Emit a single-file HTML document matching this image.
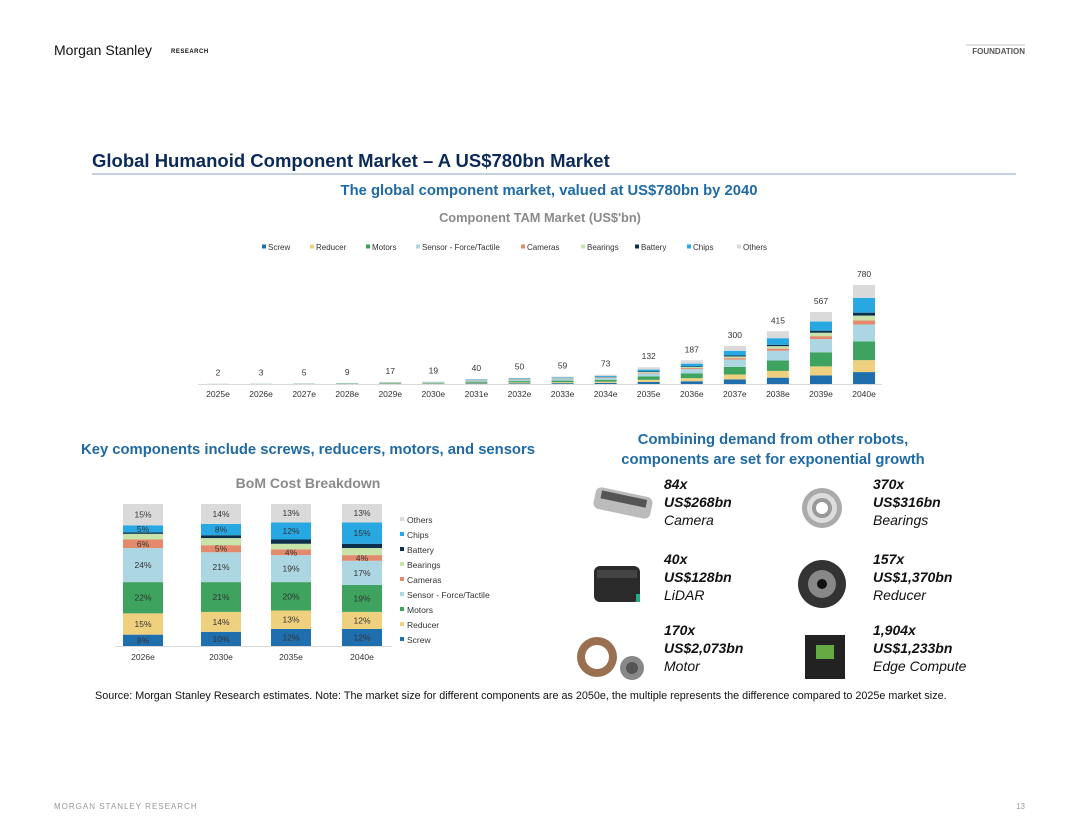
<!DOCTYPE html>
<html><head><meta charset="utf-8"><style>
html,body{margin:0;padding:0;background:#fff}
svg{display:block;font-family:"Liberation Sans",Arial,sans-serif}
</style></head><body>
<svg id="page" width="1080" height="834" viewBox="0 0 1080 834">
<text x="54" y="55" font-size="14" fill="#111">Morgan Stanley</text>
<text x="171" y="53" font-size="6" font-weight="bold" fill="#111" letter-spacing="0.5">RESEARCH</text>
<text x="1025" y="54" font-size="8" font-weight="bold" fill="#555" text-anchor="end">FOUNDATION</text>
<line x1="966" y1="45" x2="1025" y2="45" stroke="#888" stroke-width="0.6"/>
<text x="92" y="167" font-size="18.5" font-weight="bold" fill="#0b2a5a">Global Humanoid Component Market – A US$780bn Market</text>
<line x1="92" y1="174" x2="1016" y2="174" stroke="#8aa0b8" stroke-width="1"/>
<text x="549" y="195" font-size="14.8" font-weight="bold" fill="#1f6aa5" text-anchor="middle">The global component market, valued at US$780bn by 2040</text>
<text x="540" y="222" font-size="12.8" font-weight="bold" fill="#8a8a8a" text-anchor="middle">Component TAM Market (US$'bn)</text>
<g id="topLegend"></g>
<g id="topChart"></g>
<line x1="198" y1="384.5" x2="882" y2="384.5" stroke="#d9d9d9" stroke-width="1"/>
<text x="308" y="454" font-size="14.8" font-weight="bold" fill="#1f6aa5" text-anchor="middle">Key components include screws, reducers, motors, and sensors</text>
<text x="308" y="488" font-size="14" font-weight="bold" fill="#8a8a8a" text-anchor="middle">BoM Cost Breakdown</text>
<g id="bomChart"></g>
<line x1="115" y1="646.5" x2="392" y2="646.5" stroke="#d9d9d9" stroke-width="1"/>
<g id="bomLegend"></g>
<text x="773" y="444" font-size="14.8" font-weight="bold" fill="#1f6aa5" text-anchor="middle">Combining demand from other robots,</text>
<text x="773" y="464" font-size="14.8" font-weight="bold" fill="#1f6aa5" text-anchor="middle">components are set for exponential growth</text>
<g><rect x="594" y="492" width="58" height="22" rx="6" fill="#bbb" transform="rotate(12 623 503)"/><rect x="600" y="495" width="46" height="8" fill="#555" transform="rotate(12 623 503)"/></g>
<g><circle cx="822" cy="508" r="20" fill="#aaa"/><circle cx="822" cy="508" r="15" fill="#ddd"/><circle cx="822" cy="508" r="10" fill="#999"/><circle cx="822" cy="508" r="6" fill="#fff"/></g>
<g><rect x="594" y="566" width="46" height="36" rx="6" fill="#2a2a2a"/><rect x="597" y="570" width="40" height="8" fill="#444"/><rect x="636" y="594" width="4" height="8" fill="#2a8"/></g>
<g><circle cx="822" cy="584" r="24" fill="#333"/><circle cx="822" cy="584" r="14" fill="#888"/><circle cx="822" cy="584" r="5" fill="#111"/></g>
<g><circle cx="597" cy="657" r="20" fill="#9a7050"/><circle cx="597" cy="657" r="12" fill="#fff"/><circle cx="632" cy="668" r="12" fill="#888"/><circle cx="632" cy="668" r="6" fill="#555"/></g>
<g><rect x="805" y="635" width="40" height="44" fill="#222"/><rect x="816" y="645" width="18" height="14" fill="#6a4"/></g>
<g font-size="14" fill="#111">
<text x="664" y="489" font-weight="bold" font-style="italic">84x</text><text x="664" y="507" font-weight="bold" font-style="italic">US$268bn</text><text x="664" y="525" font-style="italic">Camera</text>
<text x="873" y="489" font-weight="bold" font-style="italic">370x</text><text x="873" y="507" font-weight="bold" font-style="italic">US$316bn</text><text x="873" y="525" font-style="italic">Bearings</text>
<text x="664" y="564" font-weight="bold" font-style="italic">40x</text><text x="664" y="582" font-weight="bold" font-style="italic">US$128bn</text><text x="664" y="600" font-style="italic">LiDAR</text>
<text x="873" y="564" font-weight="bold" font-style="italic">157x</text><text x="873" y="582" font-weight="bold" font-style="italic">US$1,370bn</text><text x="873" y="600" font-style="italic">Reducer</text>
<text x="664" y="635" font-weight="bold" font-style="italic">170x</text><text x="664" y="653" font-weight="bold" font-style="italic">US$2,073bn</text><text x="664" y="671" font-style="italic">Motor</text>
<text x="873" y="635" font-weight="bold" font-style="italic">1,904x</text><text x="873" y="653" font-weight="bold" font-style="italic">US$1,233bn</text><text x="873" y="671" font-style="italic">Edge Compute</text>
</g>
<text x="95" y="699" font-size="10.8" fill="#111">Source: Morgan Stanley Research estimates. Note: The market size for different components are as 2050e, the multiple represents the difference compared to 2025e market size.</text>
<text x="54" y="809" font-size="8" fill="#999" letter-spacing="1">MORGAN STANLEY RESEARCH</text>
<text x="1025" y="809" font-size="8" fill="#999" text-anchor="end">13</text>
</svg>
<script>
const years = ["2025e","2026e","2027e","2028e","2029e","2030e","2031e","2032e","2033e","2034e","2035e","2036e","2037e","2038e","2039e","2040e"];
const totals = [2,3,5,9,17,19,40,50,59,73,132,187,300,415,567,780];
const seriesNames = ["Screw","Reducer","Motors","Sensor - Force/Tactile","Cameras","Bearings","Battery","Chips","Others"];
const screw = [0.2,0.3,0.5,0.8,1.6,1.9,4.4,5.5,6.8,8.6,16,22,36,50,68,94];
const reducer = [0.3,0.5,0.8,1.3,2.4,2.7,5.6,7,8,9.8,17,24,39,53,71,94];
const motors = [0.4,0.7,1.1,2,3.6,4,8.4,10.4,12,14.8,26,37,60,82,111,148];
const sensor = [0.5,0.7,1.2,2,3.7,4,8.2,10,11.7,14,25,35,57,77,104,133];
const cameras = [0.1,0.2,0.3,0.5,0.9,1,2,2.4,2.6,3.1,5.5,7.7,12,17,23,31];
const bearings = [0.1,0.1,0.2,0.4,0.8,1,2,2.4,2.8,3.2,5.5,8,13,19,27,39];
const battery = [0,0,0.1,0.2,0.3,0.4,0.8,1,1.3,1.6,3.5,4.8,8,11,16,23];
const chips = [0.1,0.2,0.3,0.5,1.3,1.5,3.6,4.6,5.8,7.5,15,22,37,52,72,117];
const others = [0.3,0.3,0.5,1.3,2.4,2.5,5,6.7,8,10.4,18.5,26.5,38,54,75,101];

const bomYears = ["2026e","2030e","2035e","2040e"];
const bomScrew = [8,10,12,12];
const bomReducer = [15,14,13,12];
const bomMotors = [22,21,20,19];
const bomSensor = [24,21,19,17];
const bomCameras = [6,5,4,4];
const bomBearings = [4,5,4,5];
const bomBattery = [1,2,3,3];
const bomChips = [5,8,12,15];
const bomOthers = [15,14,13,13];
const bomLabels = ["Others","Chips","Battery","Bearings","Cameras","Sensor - Force/Tactile","Motors","Reducer","Screw"];

const colors = ["#1f6fae","#eed07f","#3ea35f","#acd6e2","#e38a6c","#c8e4ab","#0c2f4b","#27a8e2","#dadada"];
const NS = "http://www.w3.org/2000/svg";
function mk(tag, attrs, parent){const e=document.createElementNS(NS,tag);for(const k in attrs)e.setAttribute(k,attrs[k]);parent.appendChild(e);return e;}

const topSeries=[screw,reducer,motors,sensor,cameras,bearings,battery,chips,others];
const base=384, yScale=v=>v*99/780, xC=i=>218+i*43.07, bw=22;
const tc=document.getElementById('topChart');
years.forEach((y,i)=>{
  let acc=0;
  topSeries.forEach((s,k)=>{
    const h=yScale(s[i]);
    const r=mk('rect',{x:xC(i)-bw/2,y:base-yScale(acc)-h,width:bw,height:Math.max(h,0),fill:colors[k]},tc);
    
    
    acc+=s[i];
  });
  const t=mk('text',{x:xC(i),y:base-yScale(totals[i])-8,'font-size':8.5,fill:'#333','text-anchor':'middle'},tc);
  t.textContent=totals[i];
  
  
  const xl=mk('text',{x:xC(i),y:397,'font-size':8.5,fill:'#333','text-anchor':'middle'},tc);
  xl.textContent=y;
  
  
});
const legX=[262,310,366,416,521,581,635,687,737];
const tl=document.getElementById('topLegend');
seriesNames.forEach((n,k)=>{
  const g=mk('g',{},tl);
  
  
  mk('rect',{x:legX[k],y:244.5,width:4,height:4,fill:colors[k]},g);
  const t=mk('text',{x:legX[k]+6,y:250,'font-size':8,fill:'#333'},g);
  t.textContent=n;
});

const bomSeries=[bomScrew,bomReducer,bomMotors,bomSensor,bomCameras,bomBearings,bomBattery,bomChips,bomOthers];
const bc=document.getElementById('bomChart');
const bBase=646, pScale=v=>v*1.42, bx=[143,221,291,362], bW=40;
bomYears.forEach((y,i)=>{
  let acc=0;
  bomSeries.forEach((s,k)=>{
    const h=pScale(s[i]);
    const yy=bBase-pScale(acc)-h;
    const r=mk('rect',{x:bx[i]-bW/2,y:yy,width:bW,height:h,fill:colors[k]},bc);
    
    
    if(s[i]>=4 && k!==5 && k!==6){
      const t=mk('text',{x:bx[i],y:yy+h/2+3,'font-size':8.5,fill:'#333','text-anchor':'middle'},bc);
      t.textContent=s[i]+'%';
    }
    acc+=s[i];
  });
  const xl=mk('text',{x:bx[i],y:660,'font-size':8.5,fill:'#333','text-anchor':'middle'},bc);
  xl.textContent=y;
  
  
});
const bl=document.getElementById('bomLegend');
bomLabels.forEach((n,j)=>{
  const k=8-j;
  const g=mk('g',{},bl);
  
  
  mk('rect',{x:400,y:517+j*15,width:4,height:4,fill:colors[k]},g);
  const t=mk('text',{x:407,y:523+j*15,'font-size':8.5,fill:'#333'},g);
  t.textContent=n;
});
</script>
</body></html>
